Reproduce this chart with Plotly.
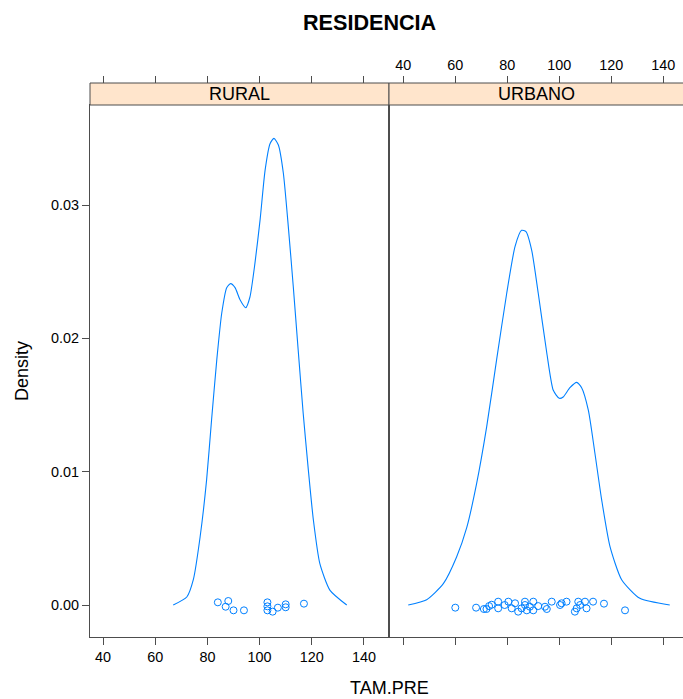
import plotly.graph_objects as go

W, H = 683, 699

# ---- data ----
rural_curve_x = [66.9, 72.1, 74.6, 77.2, 79.7, 81.6, 83.6, 85.5, 87.4, 88.9, 90.6, 92.5, 94.7, 96.3, 98.2, 100.2, 102.1, 104.0, 105.5, 107.2, 109.1, 111.0, 112.9, 114.8, 116.7, 118.7, 120.6, 123.1, 127.0, 133.4]
rural_curve_y = [0.0, 0.0006, 0.0019, 0.0051, 0.0094, 0.0139, 0.0184, 0.0219, 0.0238, 0.0241, 0.0238, 0.0229, 0.0223, 0.0231, 0.0256, 0.0289, 0.0326, 0.0346, 0.0350, 0.0345, 0.0324, 0.0284, 0.0239, 0.0191, 0.0144, 0.0101, 0.0064, 0.0031, 0.0011, 0.0]

urbano_curve_x = [41.9, 49.0, 55.4, 60.5, 64.4, 68.2, 72.1, 75.9, 79.8, 83.0, 85.5, 87.2, 89.4, 91.9, 95.2, 97.7, 100.0, 101.5, 104.1, 106.7, 108.6, 111.2, 113.7, 116.3, 119.5, 124.0, 131.0, 142.5]
urbano_curve_y = [0.0, 0.0004, 0.0016, 0.0036, 0.0058, 0.0091, 0.0134, 0.0184, 0.0234, 0.0269, 0.0281, 0.0280, 0.0266, 0.0234, 0.0189, 0.0161, 0.0155, 0.0156, 0.0163, 0.0167, 0.0163, 0.0146, 0.0114, 0.0079, 0.0044, 0.0019, 0.0005, 0.0]

rural_pts_x = [84, 88, 87, 90, 94, 103, 103, 103, 105, 107, 110, 110, 117]
rural_pts_y = [0.0002, 0.0003, -0.00013, -0.0004, -0.0004, 0.0002, -0.0001, -0.0004, -0.0005, -0.0002, 0.00005, -0.00017, 0.0001]

urbano_pts_x = [60, 68, 71, 72, 73, 74, 76.5, 76.5, 79, 80.4, 81.7, 83, 84.2, 85.5, 86.8, 86.8, 87.5, 88.7, 90, 90, 91.9, 94.5, 95.2, 97.1, 100.3, 100.9, 102.8, 106, 106.7, 107.3, 108, 109.9, 110.5, 113, 117.2, 125.3]
urbano_pts_y = [-0.0002, -0.0002, -0.0003, -0.0003, -0.00008, 0.00002, 0.00025, -0.00025, 0.0, 0.00025, -0.00025, 0.00013, -0.0005, -0.00025, 0.00025, 0.0, -0.0004, -0.00013, 0.00025, -0.0004, -0.00008, -0.00013, -0.0003, 0.00025, 0.0, 0.00013, 0.00025, -0.0005, -0.00025, 0.00025, 0.0, 0.00025, -0.00025, 0.00025, 0.0001, -0.0004]

x_ticks = [40, 60, 80, 100, 120, 140]
y_ticks = [0.00, 0.01, 0.02, 0.03]
y_ticktext = ["0.00", "0.01", "0.02", "0.03"]
panels = ["RURAL", "URBANO"]

BLUE = "#0080ff"
AXC = "#4d4d4d"
FONT = "Liberation Sans, Arial, sans-serif"
TICKF = dict(size=14.4, color="#000", family=FONT)

def px(xp):
    return xp / W

def py(yp):
    return 1 - yp / H

left_dom = [px(90), px(389)]
right_dom = [px(389), 1.0]
y_dom = [py(637), py(105)]
strip_top = 83
yr = [-0.0024, 0.0375]
xr_left = [35.0, 149.6]
xr_right = [34.5, 147.6]

fig = go.Figure()
line_style = dict(color=BLUE, width=1.1, shape="spline", smoothing=0.6)
mk = dict(symbol="circle-open", size=7, color=BLUE, line=dict(width=1))
fig.add_trace(go.Scatter(x=rural_curve_x, y=rural_curve_y, mode="lines", line=line_style, xaxis="x", yaxis="y", showlegend=False))
fig.add_trace(go.Scatter(x=rural_pts_x, y=rural_pts_y, mode="markers", marker=mk, xaxis="x", yaxis="y", showlegend=False))
fig.add_trace(go.Scatter(x=urbano_curve_x, y=urbano_curve_y, mode="lines", line=line_style, xaxis="x2", yaxis="y2", showlegend=False))
fig.add_trace(go.Scatter(x=urbano_pts_x, y=urbano_pts_y, mode="markers", marker=mk, xaxis="x2", yaxis="y2", showlegend=False))

tick_x = dict(tickvals=x_ticks, ticks="outside", ticklen=7, tickcolor=AXC, showgrid=False, zeroline=False, tickfont=TICKF)

fig.update_layout(
    width=W, height=H, margin=dict(l=0, r=0, t=0, b=0),
    plot_bgcolor="white", paper_bgcolor="white",
    font=dict(family=FONT, color="#000"),
    xaxis=dict(domain=left_dom, range=xr_left, anchor="y", mirror=True, showline=True, linecolor=AXC, linewidth=1, **tick_x),
    xaxis2=dict(domain=right_dom, range=xr_right, anchor="y2", mirror=True, showline=True, linecolor=AXC, linewidth=1,
                showticklabels=False, **tick_x),
    xaxis3=dict(overlaying="x", range=xr_left, anchor="free", position=py(strip_top), side="top",
                showticklabels=False, showline=False, **tick_x),
    xaxis4=dict(overlaying="x2", range=xr_right, anchor="free", position=py(strip_top), side="top",
                showline=False, **tick_x),
    yaxis=dict(domain=y_dom, range=yr, anchor="x", tickvals=y_ticks, ticktext=y_ticktext, ticks="outside", ticklen=7,
               tickcolor=AXC, showgrid=False, zeroline=False, showline=True, linecolor=AXC, linewidth=1, mirror=True,
               tickfont=TICKF),
    yaxis2=dict(domain=y_dom, range=yr, anchor="x2", showticklabels=False, ticks="", showgrid=False, zeroline=False,
                showline=True, linecolor=AXC, linewidth=1, mirror=True),
)

# empty traces so the overlay (top) axes render
fig.add_trace(go.Scatter(x=[None], y=[None], xaxis="x3", yaxis="y", showlegend=False, hoverinfo="skip"))
fig.add_trace(go.Scatter(x=[None], y=[None], xaxis="x4", yaxis="y2", showlegend=False, hoverinfo="skip"))

shapes = []
annotations = []
for name, dom in zip(panels, [left_dom, right_dom]):
    shapes.append(dict(type="rect", xref="paper", yref="paper", x0=dom[0], x1=dom[1] + (0.01 if dom[1] >= 1 else 0),
                       y0=py(105), y1=py(strip_top), fillcolor="#ffe5cc", line=dict(color=AXC, width=1), layer="above"))
    annotations.append(dict(text=name, x=(dom[0] + min(dom[1], px(688))) / 2, y=py(94.5), xref="paper", yref="paper",
                            showarrow=False, font=dict(size=18, color="#000", family=FONT), xanchor="center", yanchor="middle"))

annotations.append(dict(text="<b>RESIDENCIA</b>", x=px(370), y=py(22), xref="paper", yref="paper", showarrow=False,
                        font=dict(size=21.6, color="#000", family=FONT), xanchor="center", yanchor="middle"))
annotations.append(dict(text="TAM.PRE", x=px(389), y=py(688), xref="paper", yref="paper", showarrow=False,
                        font=dict(size=18, color="#000", family=FONT), xanchor="center", yanchor="middle"))
annotations.append(dict(text="Density", x=px(22), y=py(371), xref="paper", yref="paper", showarrow=False, textangle=-90,
                        font=dict(size=18, color="#000", family=FONT), xanchor="center", yanchor="middle"))

fig.update_layout(shapes=shapes, annotations=annotations)
fig.write_html("out.html")
